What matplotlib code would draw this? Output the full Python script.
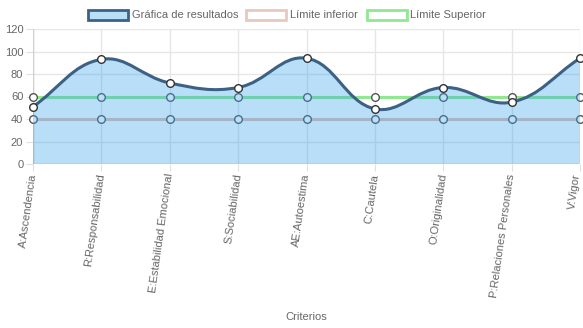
import numpy as np
import matplotlib.pyplot as plt
from matplotlib.path import Path
from matplotlib.patches import PathPatch, Patch

plt.rcParams['font.family'] = ['Liberation Sans', 'DejaVu Sans']

criterios = ['A:Ascendencia', 'R:Responsabilidad', 'E:Estabilidad Emocional',
             'S:Sociabilidad', 'AE:Autoestima', 'C:Cautela', 'O:Originalidad',
             'P:Relaciones Personales', 'V:Vigor']
resultados = [51, 93, 72, 68, 94, 49, 68, 55, 94]
lim_inf = [40, 40, 40, 40, 40, 40, 40, 40, 40]
lim_sup = [60, 60, 60, 60, 60, 60, 60, 60, 60]

W, H = 583, 328
fig = plt.figure(figsize=(W / 100, H / 100), dpi=100)
x0, x1, y0, y1 = 33, 580, 29, 164
ax = fig.add_axes([x0 / W, 1 - y1 / H, (x1 - x0) / W, (y1 - y0) / H])

n = len(criterios)
xs = np.arange(n)
ax.set_xlim(0, n - 1)
ax.set_ylim(0, 120)

# escalas en pixeles (para las curvas tipo chart.js)
sx = (x1 - x0) / (n - 1)
sy = (y1 - y0) / 120.0


def curva(vals, t=0.4):
    px = xs * sx
    py = np.array(vals, float) * sy
    verts = [(px[0], py[0])]
    codes = [Path.MOVETO]
    cps = []
    for i in range(n):
        p = max(i - 1, 0)
        q = min(i + 1, n - 1)
        d01 = np.hypot(px[i] - px[p], py[i] - py[p])
        d12 = np.hypot(px[q] - px[i], py[q] - py[i])
        s01 = d01 / (d01 + d12) if d01 + d12 > 0 else 0
        s12 = d12 / (d01 + d12) if d01 + d12 > 0 else 0
        dx, dy = px[q] - px[p], py[q] - py[p]
        cps.append(((px[i] - t * s01 * dx, py[i] - t * s01 * dy),
                    (px[i] + t * s12 * dx, py[i] + t * s12 * dy)))
    for i in range(1, n):
        verts += [cps[i - 1][1], cps[i][0], (px[i], py[i])]
        codes += [Path.CURVE4] * 3
    verts = [(a / sx, b / sy) for a, b in verts]
    return verts, codes


# limites (se dibujan debajo del relleno)
ax.plot(xs, lim_sup, color='#90e890', lw=2.2, zorder=2)
ax.plot(xs, lim_sup, 'o', ms=5.5, mfc='white', mec='#555555', mew=1.0, zorder=2.1, clip_on=False)
ax.plot(xs, lim_inf, color='#e1beb4', lw=2.2, zorder=2)
ax.plot(xs, lim_inf, 'o', ms=5.5, mfc='white', mec='#555555', mew=1.0, zorder=2.1, clip_on=False)

v, c = curva(resultados)
relleno = v + [(n - 1, 0), (0, 0), v[0]]
cr = c + [Path.LINETO, Path.LINETO, Path.CLOSEPOLY]
ax.add_patch(PathPatch(Path(relleno, cr), facecolor=(54 / 255, 162 / 255, 235 / 255, 0.35),
                       edgecolor='none', zorder=3))
ax.add_patch(PathPatch(Path(v, c), facecolor='none', edgecolor='#3d6184', lw=2.2, zorder=4))
ax.plot(xs, resultados, 'o', ms=5.5, mfc='white', mec='#333333', mew=1.0, zorder=5, clip_on=False)

ax.set_yticks(np.arange(0, 121, 20))
ax.set_xticks(xs)
# la ultima etiqueta se pone aparte, un poco a la izquierda, para que no se corte
ax.set_xticklabels(criterios[:-1] + [''], rotation=82, ha='right', va='center', rotation_mode='anchor')
ax.annotate(criterios[-1], xy=(xs[-1], 0), xycoords=('data', 'axes fraction'),
            xytext=(-2.5, -7), textcoords='offset points', rotation=82, ha='right', va='center',
            rotation_mode='anchor', fontsize=8.0, color='#666666', annotation_clip=False)
ax.grid(True, color='#e6e6e6', lw=1)
ax.set_axisbelow(True)
for s in ax.spines.values():
    s.set_visible(False)
ax.axhline(0, color='#d0d0d0', lw=1, zorder=1)
ax.axvline(0, color='#d0d0d0', lw=1, zorder=1)
ax.tick_params(axis='both', labelsize=8.0, length=5, width=0.8)
ax.tick_params(axis='x', colors='#e0e0e0', labelcolor='#666666', pad=2)
ax.tick_params(axis='y', colors='#e0e0e0', labelcolor='#666666', pad=2)

fig.text(306 / W, 1 - 317 / H, 'Criterios', ha='center', va='center', fontsize=8.0, color='#666666')

handles = [Patch(facecolor=(54 / 255, 162 / 255, 235 / 255, 0.35), edgecolor='#3d6184', lw=2),
           Patch(facecolor='white', edgecolor='#e8c9bf', lw=2),
           Patch(facecolor='white', edgecolor='#90e890', lw=2)]
fig.legend(handles, ['Gráfica de resultados', 'Límite inferior', 'Límite Superior'],
           loc='center', bbox_to_anchor=(287 / W, 1 - 15 / H), ncol=3, frameon=False,
           fontsize=8.0, handlelength=3.6, handleheight=1.0, handletextpad=0.35,
           columnspacing=0.75, labelcolor='#666666')

fig.savefig('out.png', dpi=100)
